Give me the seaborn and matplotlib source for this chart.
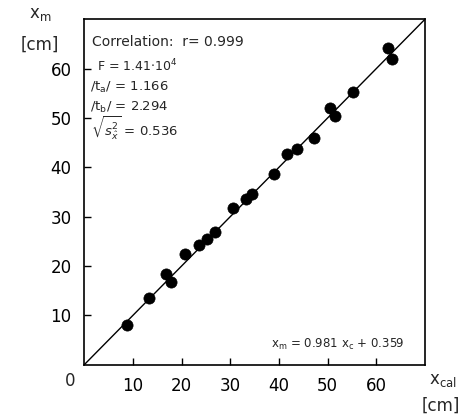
import numpy as np
import pandas as pd
import matplotlib
matplotlib.use("Agg")
import matplotlib.pyplot as plt
import seaborn as sns

# data
x_cal = [8.9, 13.3, 16.8, 17.9, 20.7, 23.6, 25.2, 26.8, 30.5, 33.3, 34.4,
         39.0, 41.7, 43.7, 47.2, 50.5, 51.5, 55.2, 62.3, 63.2]
x_m = [8.0, 13.6, 18.5, 16.7, 22.4, 24.3, 25.5, 26.9, 31.8, 33.5, 34.6,
       38.6, 42.8, 43.7, 45.9, 52.0, 50.3, 55.2, 64.1, 62.0]
fit_slope = 0.981
fit_intercept = 0.359
tick_values = [10, 20, 30, 40, 50, 60]
tick_labels = ["10", "20", "30", "40", "50", "60"]

sns.set_theme(style="ticks")
plt.rcParams['font.family'] = ['DejaVu Sans']
plt.rcParams['mathtext.fontset'] = 'dejavusans'

df = pd.DataFrame({"x_cal": x_cal, "x_m": x_m})
line_x = np.array([0.0, 70.0])
fit_df = pd.DataFrame({"x": line_x, "y": line_x})

fig = plt.figure(figsize=(4.62, 4.17), dpi=100)
ax = fig.add_axes([0.182, 0.125, 0.738, 0.829])

sns.lineplot(data=fit_df, x="x", y="y", ax=ax, color="black", linewidth=1.0)
sns.scatterplot(data=df, x="x_cal", y="x_m", ax=ax, color="black", s=65,
                edgecolor="black", linewidth=0.5, zorder=3)

ax.set_xlim(0, 70)
ax.set_ylim(0, 70)
ax.set_xticks(tick_values)
ax.set_xticklabels(tick_labels)
ax.set_yticks(tick_values)
ax.set_yticklabels(tick_labels)
ax.tick_params(direction="in", length=5, width=1, labelsize=12, colors="black")
ax.tick_params(axis="x", pad=9)
ax.tick_params(axis="y", pad=9)
ax.set_xlabel("")
ax.set_ylabel("")
for sp in ax.spines.values():
    sp.set_visible(True)
    sp.set_linewidth(1.2)
    sp.set_color("black")

ax.text(-2.9, -3.2, "0", fontsize=12, ha="center", va="center",
        transform=ax.transData, clip_on=False)

# axis labels
fig.text(40 / 462, 1 - 14 / 417, r"x$_\mathregular{m}$", fontsize=12, ha="center", va="center")
fig.text(40 / 462, 1 - 45 / 417, "[cm]", fontsize=12, ha="center", va="center")
fig.text(443 / 462, 1 - 380 / 417, r"x$_\mathregular{cal}$", fontsize=12, ha="center", va="center")
fig.text(441 / 462, 1 - 406 / 417, "[cm]", fontsize=12, ha="center", va="center")

# annotations
tx = 92 / 462
fig.text(tx, 1 - 42 / 417, "Correlation:  r= 0.999", fontsize=10, ha="left", va="center")
fig.text(tx + 0.01, 1 - 66 / 417, r"F = 1.41$\cdot$10$^4$", fontsize=9, ha="left", va="center")
fig.text(tx - 0.004, 1 - 87 / 417, r"/t$_\mathregular{a}$/ = 1.166", fontsize=9.5, ha="left", va="center")
fig.text(tx - 0.004, 1 - 107 / 417, r"/t$_\mathregular{b}$/ = 2.294", fontsize=9.5, ha="left", va="center")
fig.text(tx - 0.002, 1 - 128 / 417, r"$\sqrt{s^2_{\hat{x}}}$ = 0.536", fontsize=9.5, ha="left", va="center")

fig.text(405 / 462, 1 - 344 / 417, r"x$_\mathregular{m}$ = 0.981 x$_\mathregular{c}$ + 0.359",
         fontsize=8.5, ha="right", va="center")

fig.savefig("out.png", dpi=100)
